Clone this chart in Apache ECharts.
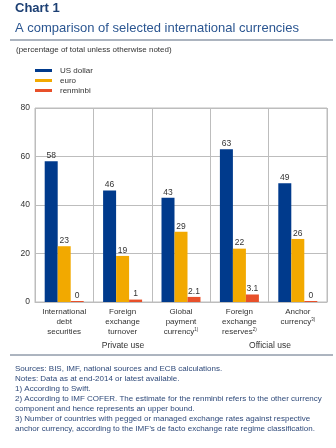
<!DOCTYPE html>
<html><head><meta charset="utf-8">
<script src="https://cdn.jsdelivr.net/npm/echarts@6/dist/echarts.min.js"></script>
<style>html,body{margin:0;padding:0;background:#fff}#c{width:336px;height:448px}</style>
</head><body><div id="c"></div>
<script>
var categories = ['International\ndebt\nsecurities', 'Foreign\nexchange\nturnover', 'Global\npayment\ncurrency{sup|1)}', 'Foreign\nexchange\nreserves{sup|2)}', 'Anchor\ncurrency{sup|3)}'];
var usDollar = [58, 46, 43, 63, 49];
var euro = [23, 19, 29, 22, 26];
var renminbi = [0, 1, 2.1, 3.1, 0];
var yTicks = [0, 20, 40, 60, 80];
var groups = ['Private use', 'Official use'];
var notes = [
  'Sources: BIS, IMF, national sources and ECB calculations.',
  'Notes: Data as at end-2014 or latest available.',
  '1) According to Swift.',
  '2) According to IMF COFER. The estimate for the renminbi refers to the other currency',
  'component and hence represents an upper bound.',
  '3) Number of countries with pegged or managed exchange rates against respective',
  'anchor currency, according to the IMF\u2019s de facto exchange rate regime classification.'
];

var FONT = 'Liberation Sans, Arial, sans-serif';
var chart = echarts.init(document.getElementById('c'), null, {renderer: 'canvas'});
function lbl(){ return {show: true, position: 'top', distance: 1, fontSize: 8.5, color: '#333', fontFamily: FONT, formatter: function(p){ return String(p.value); }}; }

var graphics = [
  {type: 'line', shape: {x1: 10, y1: 40, x2: 333, y2: 40}, style: {stroke: '#5a6b80', lineWidth: 1.2}},
  {type: 'line', shape: {x1: 10, y1: 355, x2: 333, y2: 355}, style: {stroke: '#5a6b80', lineWidth: 1}},
  {type: 'text', x: 16, y: 46, style: {text: '(percentage of total unless otherwise noted)', fontSize: 8, fill: '#333', fontFamily: FONT}},
  {type: 'text', x: 123, y: 341, style: {text: groups[0], fontSize: 8.5, fill: '#333', fontFamily: FONT, textAlign: 'center'}},
  {type: 'text', x: 270, y: 341, style: {text: groups[1], fontSize: 8.5, fill: '#333', fontFamily: FONT, textAlign: 'center'}},
  {type: 'text', x: 15, y: 364, style: {text: notes.join('\n'), fontSize: 8, lineHeight: 10, fill: '#2f4a7a', fontFamily: FONT}}
];

chart.setOption({
  animation: false,
  textStyle: {fontFamily: FONT},
  title: [
    {text: 'Chart 1', left: 15, top: 2, padding: 0, textStyle: {fontSize: 13, fontWeight: 'bold', color: '#1c3f73', fontFamily: FONT}},
    {text: 'A comparison of selected international currencies', left: 15, top: 22, padding: 0, textStyle: {fontSize: 13, fontWeight: 'normal', color: '#2b5691', fontFamily: FONT}}
  ],
  legend: {
    orient: 'vertical', left: 35, top: 66, padding: 0, itemWidth: 17, itemHeight: 3, itemGap: 1,
    icon: 'rect',
    textStyle: {fontSize: 8, color: '#333', padding: [0, 0, 0, 3], lineHeight: 9},
    data: ['US dollar', 'euro', 'renminbi']
  },
  grid: {left: 35, right: 9, top: 108, bottom: 146, show: true, borderColor: '#bdbdbd', borderWidth: 1},
  xAxis: {
    type: 'category', data: categories,
    axisLine: {lineStyle: {color: '#bdbdbd'}}, axisTick: {show: false},
    splitLine: {show: true, lineStyle: {color: '#bdbdbd'}},
    axisLabel: {interval: 0, fontSize: 8, color: '#333', lineHeight: 10, margin: 5,
      rich: {sup: {fontSize: 4.5, verticalAlign: 'top', lineHeight: 10, padding: [0, 0, 4, 0], color: '#333'}}}
  },
  yAxis: {
    type: 'value', min: 0, max: 80, interval: 20,
    axisLine: {show: false}, axisTick: {show: false},
    splitLine: {lineStyle: {color: '#bdbdbd'}},
    axisLabel: {fontSize: 8.5, color: '#333', margin: 5, formatter: function(v){ return yTicks.indexOf(v) >= 0 ? String(v) : ''; }}
  },
  graphic: graphics,
  series: [
    {name: 'US dollar', type: 'bar', data: usDollar, barWidth: 13, barGap: '0%', itemStyle: {color: '#003a8c'}, label: lbl()},
    {name: 'euro', type: 'bar', data: euro, barWidth: 13, itemStyle: {color: '#f2a900'}, label: lbl()},
    {name: 'renminbi', type: 'bar', data: renminbi, barWidth: 13, barMinHeight: 1, itemStyle: {color: '#e8502a'}, label: lbl()}
  ]
});
</script></body></html>
